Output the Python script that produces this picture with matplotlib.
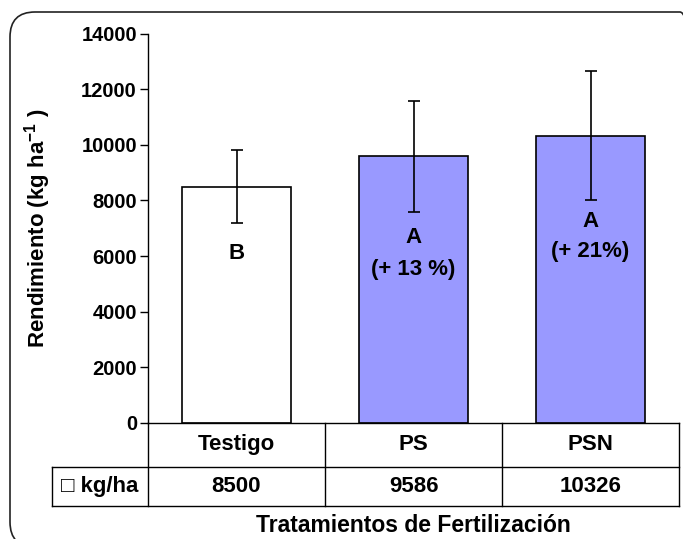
import matplotlib

matplotlib.use("Agg")
import matplotlib.pyplot as plt
import matplotlib.transforms as mtransforms
from matplotlib.patches import FancyBboxPatch

# data
categories = ["Testigo", "PS", "PSN"]
yield_kg_ha = [8500, 9586, 10326]
yield_err = [1300, 2000, 2320]
group_letters = ["B", "A", "A"]
increase_text = ["", "(+ 13 %)", "(+ 21%)"]
row_label = "\u25a1 kg/ha"
bar_colors = ["white", "#9999FF", "#9999FF"]

plt.rcParams["font.family"] = ["Liberation Sans", "DejaVu Sans"]
plt.rcParams["font.weight"] = "bold"
plt.rcParams["mathtext.fontset"] = "custom"
plt.rcParams["mathtext.rm"] = "Liberation Sans:bold"
plt.rcParams["mathtext.bf"] = "Liberation Sans:bold"

W, H = 683, 539
fig = plt.figure(figsize=(W / 100, H / 100), dpi=100)

# axes placed in pixel terms of the reference
ax_l, ax_r, ax_t, ax_b = 148, 679, 33.5, 423
ax = fig.add_axes([ax_l / W, 1 - ax_b / H, (ax_r - ax_l) / W, (ax_b - ax_t) / H])

x = list(range(len(categories)))
ax.bar(x, yield_kg_ha, width=0.616, color=bar_colors, edgecolor="black",
       linewidth=1.2, zorder=2)
ax.errorbar(x, yield_kg_ha, yerr=yield_err, fmt="none", ecolor="black",
            elinewidth=1.2, capsize=4.3, capthick=1.2, zorder=3)

# significance letters and increase labels inside bars
letter_y = [6100, 6650, 7225]
pct_y = [None, 5500, 6150]
for xi, lt, ly, pt, py in zip(x, group_letters, letter_y, increase_text, pct_y):
    ax.text(xi, ly, lt, ha="center", va="center", fontsize=16,
            fontweight="bold", zorder=4)
    if pt:
        ax.text(xi, py, pt, ha="center", va="center", fontsize=16,
                fontweight="bold", zorder=4)

ax.set_xlim(-0.5, len(categories) - 0.5)
ax.set_ylim(0, 14000)
ax.set_yticks(range(0, 14001, 2000))
ax.tick_params(axis="y", direction="out", length=6, width=1, pad=2,
               labelsize=14.5)
ax.tick_params(axis="x", bottom=False, labelbottom=False)
for lab in ax.get_yticklabels():
    lab.set_fontweight("bold")
ax.spines["top"].set_visible(False)
ax.spines["right"].set_visible(False)
for s in ("left", "bottom"):
    ax.spines[s].set_linewidth(1)

# data table under the axis
ax_h = ax_b - ax_t
y_mid = -(466.5 - ax_b) / ax_h
y_bot = -(506 - ax_b) / ax_h
x_lab = -0.5 - 96 / ((ax_r - ax_l) / len(categories))
trans = mtransforms.blended_transform_factory(ax.transData, ax.transAxes)
lk = dict(color="black", linewidth=1, transform=trans, clip_on=False)
for bx in [i - 0.5 for i in range(len(categories) + 1)]:
    ax.plot([bx, bx], [0, y_bot], **lk)
ax.plot([x_lab, x_lab], [y_mid, y_bot], **lk)
ax.plot([x_lab, len(categories) - 0.5], [y_mid, y_mid], **lk)
ax.plot([x_lab, len(categories) - 0.5], [y_bot, y_bot], **lk)
for xi, cat, val in zip(x, categories, yield_kg_ha):
    ax.text(xi, y_mid / 2, cat, ha="center", va="center", fontsize=16,
            fontweight="bold", transform=trans)
    ax.text(xi, (y_mid + y_bot) / 2, str(val), ha="center", va="center",
            fontsize=16, fontweight="bold", transform=trans)
ax.text((x_lab - 0.5) / 2, (y_mid + y_bot) / 2, row_label, ha="center",
        va="center", fontsize=16, fontweight="bold", transform=trans)

ax.text(0.5, -(525 - ax_b) / ax_h, "Tratamientos de Fertilización",
        ha="center", va="center", fontsize=16.5, fontweight="bold",
        transform=ax.transAxes)
ax.text((38 - ax_l) / (ax_r - ax_l), 0.5, "Rendimiento (kg ha$^{-1}$ )",
        ha="center", va="center", rotation=90, fontsize=16,
        fontweight="bold", transform=ax.transAxes)

# rounded chart-area frame, partly off the canvas like the reference
frame = FancyBboxPatch((0.10, -0.08), 6.95, 5.35,
                       boxstyle="round,pad=0,rounding_size=0.25",
                       transform=fig.dpi_scale_trans, facecolor="none",
                       edgecolor="#222222", linewidth=1.2)
fig.patches.append(frame)

fig.savefig("out.png", dpi=100)
plt.close(fig)
